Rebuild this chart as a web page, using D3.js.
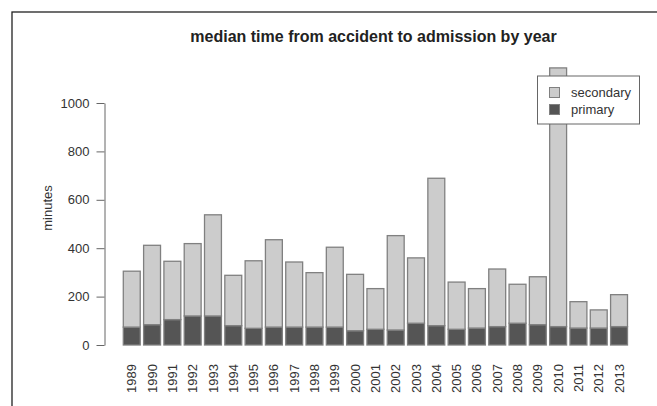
<!DOCTYPE html>
<html><head><meta charset="utf-8">
<script src="https://cdn.jsdelivr.net/npm/d3@7"></script>
<style>body{margin:0;background:#fff}svg{display:block}text{font-family:"Liberation Sans",Arial,sans-serif}</style>
</head><body>
<script>
const years = ["1989","1990","1991","1992","1993","1994","1995","1996","1997","1998","1999","2000","2001","2002","2003","2004","2005","2006","2007","2008","2009","2010","2011","2012","2013"];
const primary = [74,84,105,120,120,80,69,74,74,74,74,59,65,62,90,80,65,70,76,90,84,76,70,70,76];
const secondary = [231,328,241,299,418,208,279,361,269,225,330,233,168,390,270,609,195,163,238,161,198,1069,109,75,132];
const yTicks = [0,200,400,600,800,1000];
const seriesNames = ["secondary","primary"];
const seriesColors = {secondary:"#cccccc", primary:"#555555"};

const W=657,H=406;
const svg=d3.select("body").append("svg").attr("width",W).attr("height",H);
svg.append("rect").attr("x",12).attr("y",12).attr("width",700).attr("height",500).attr("fill","none").attr("stroke","#222").attr("stroke-width",1.3);

const x=d3.scaleBand().domain(years).range([123.3,627.5]).paddingInner(1/6).paddingOuter(0);
const y=d3.scaleLinear().domain([0,1000]).range([345,103]);

const data=years.map((yr,i)=>({year:yr,primary:primary[i],secondary:secondary[i]}));
const stack=d3.stack().keys(["primary","secondary"])(data);

svg.append("g").selectAll("g").data(stack).join("g")
  .attr("fill",d=>seriesColors[d.key])
  .selectAll("rect").data(d=>d).join("rect")
  .attr("x",d=>x(d.data.year)).attr("width",x.bandwidth())
  .attr("y",d=>y(d[1])).attr("height",d=>y(d[0])-y(d[1]))
  .attr("stroke","#808080").attr("stroke-width",1.3);

const ya=svg.append("g").attr("transform","translate(104.5,0)")
  .call(d3.axisLeft(y).tickValues(yTicks).tickFormat(d3.format("d")).tickSize(8).tickPadding(7).tickSizeOuter(0));
ya.select(".domain").attr("stroke","#666");
ya.selectAll(".tick line").attr("stroke","#666");
ya.selectAll("text").attr("font-size",13).attr("fill","#333").attr("font-family","Liberation Sans, Arial, sans-serif");

const xa=svg.append("g").attr("transform","translate(0,345)")
  .call(d3.axisBottom(x).tickSize(0).tickPadding(0));
xa.select(".domain").remove();
xa.selectAll("text").attr("font-size",13).attr("fill","#333").attr("font-family","Liberation Sans, Arial, sans-serif")
  .attr("transform","rotate(-90)").attr("text-anchor","end").attr("dy","0.35em").attr("x",-19).attr("y",0);

svg.append("text").attr("x",373.5).attr("y",42).attr("text-anchor","middle").attr("font-size",16).attr("font-weight","bold").attr("fill","#222")
  .text("median time from accident to admission by year");
svg.append("text").attr("transform","translate(52,208) rotate(-90)").attr("text-anchor","middle").attr("font-size",13).attr("fill","#333").text("minutes");

const lg=svg.append("g");
lg.append("rect").attr("x",537.5).attr("y",76).attr("width",102).attr("height",48).attr("fill","#fff").attr("stroke","#666").attr("stroke-width",1);
seriesNames.forEach((s,i)=>{
  const cy=92.5+i*17;
  lg.append("rect").attr("x",549.5).attr("y",cy-5).attr("width",10).attr("height",10).attr("fill",seriesColors[s]).attr("stroke","#808080");
  lg.append("text").attr("x",571).attr("y",cy).attr("dy","0.35em").attr("font-size",13).attr("fill","#333").text(s);
});
</script>
</body></html>
